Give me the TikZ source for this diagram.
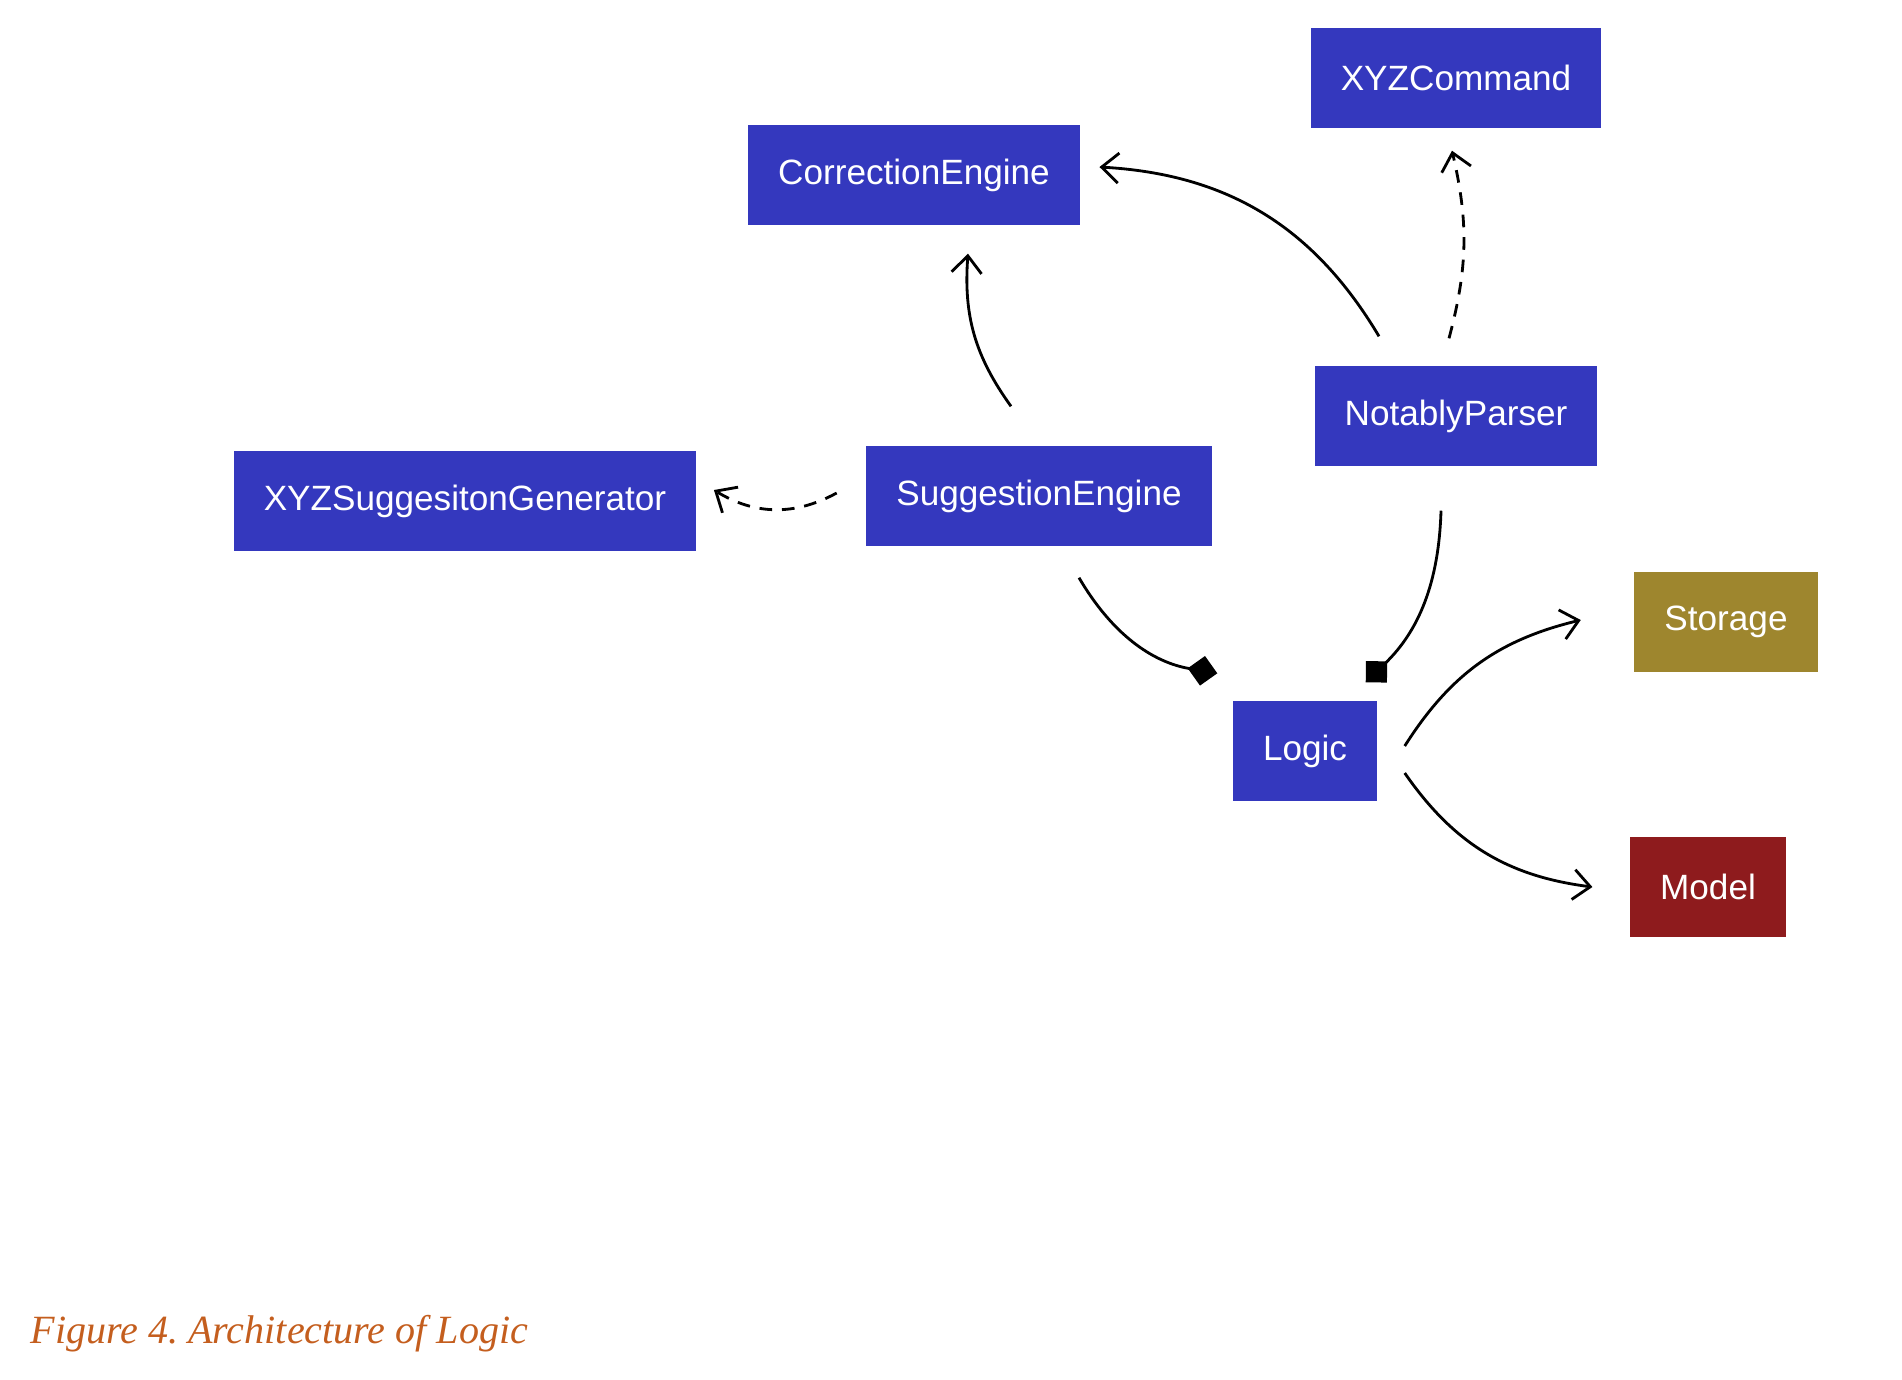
\documentclass[tikz,border=0pt]{standalone}
\usepackage{fontspec}
\setmainfont{Liberation Sans}
\newfontfamily\capfont{Liberation Serif}
\usepackage{tikz}
\usetikzlibrary{arrows.meta, positioning, calc}

\definecolor{blockblue}{RGB}{52,56,190}
\definecolor{storagegold}{RGB}{158,134,46}
\definecolor{modelred}{RGB}{142,27,29}
\definecolor{captionorange}{RGB}{196,94,30}

\tikzset{
  block/.style={fill=blockblue, text=white, minimum height=1cm, inner xsep=3mm, font=\fontsize{10}{12}\selectfont},
  link/.style={line width=0.8pt, -{Straight Barb[length=1.7mm, width=3mm]}},
  dep/.style={link, dash pattern=on 3.6pt off 2.8pt},
  owns/.style={line width=0.8pt, -{Diamond[length=3mm, width=3mm]}}
}

\begin{document}
\begin{tikzpicture}
                \useasboundingbox (0,0) rectangle (19.02,-13.79);

                % boxes
                \node[block] (cmd) at (14.56,-0.78) {XYZCommand};
                \node[block] (corr) at (9.14,-1.75) {CorrectionEngine};
                \node[block] (parser) at (14.56,-4.16) {NotablyParser};
                \node[block] (gen) at (4.65,-5.01) {XYZSuggesitonGenerator};
                \node[block] (sugg) at (10.39,-4.96) {SuggestionEngine};
                \node[block] (logic) at (13.05,-7.51) {Logic};
                \node[block, fill=storagegold] (storage) at (17.26,-6.22) {Storage};
                \node[block, fill=modelred] (model) at (17.08,-8.87) {Model};

                % arrows
                \draw[link] ([shift={(-0.28,0.39)}]sugg.north) to[bend left=20] ([shift={(0.54,-0.28)}]corr.south);
                \draw[link] ([shift={(-0.77,0.29)}]parser.north) to[bend right=28] ([shift={(0.19,0.08)}]corr.east);
                \draw[dep] ([shift={(-0.07,0.27)}]parser.north) to[bend right=14] ([shift={(-0.04,-0.22)}]cmd.south);
                \draw[dep] ([shift={(-0.29,0.03)}]sugg.west) to[bend left=30] ([shift={(0.17,0.11)}]gen.east);
                \draw[owns] ([shift={(0.40,-0.31)}]sugg.south) to[bend right=25] ([shift={(-0.15,0.27)}]logic.north west);
                \draw[owns] ([shift={(-0.15,-0.44)}]parser.south) to[bend left=22] ([shift={(-0.12,0.18)}]logic.north east);
                \draw[link] ([shift={(0.27,0.05)}]logic.east) to[bend left=22] ([shift={(-0.53,0.02)}]storage.west);
                \draw[link] ([shift={(0.27,-0.22)}]logic.east) to[bend right=24] ([shift={(-0.37,0)}]model.west);

                % caption
                \node[anchor=base west, inner sep=0pt, text=captionorange, font=\capfont\itshape\fontsize{11.4}{13}\selectfont] (caption) at (0.30,-13.43) {Figure 4.\ Architecture of Logic};
\end{tikzpicture}
\end{document}
